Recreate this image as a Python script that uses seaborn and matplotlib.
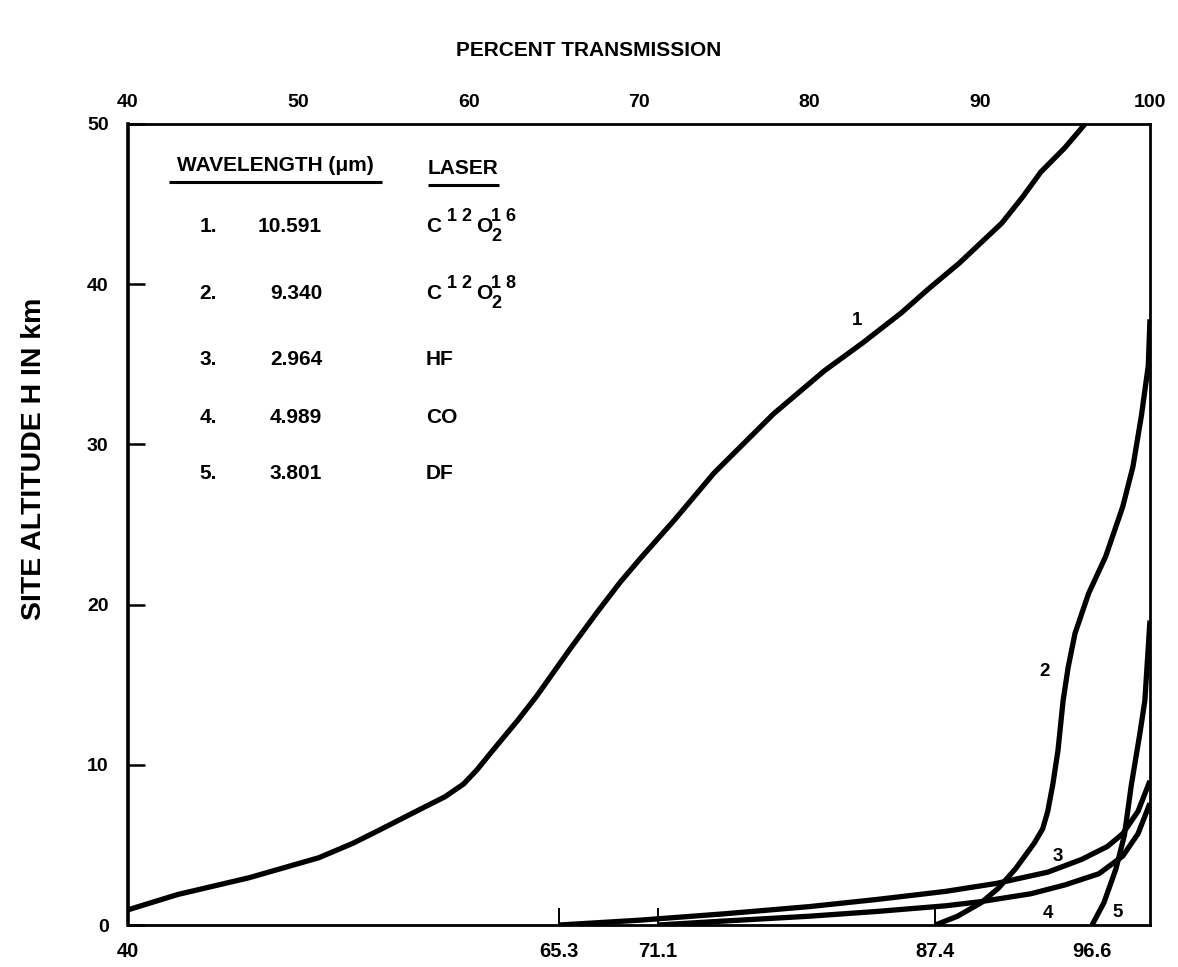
import numpy as np
import pandas as pd
import matplotlib
matplotlib.use("Agg")
import matplotlib.pyplot as plt
import seaborn as sns

# ---- data ----
c1_T = [40.0, 42.9, 47.1, 51.2, 53.2, 54.8, 56.0, 57.2, 58.6, 59.7, 60.5, 61.3, 62.9, 64.0, 65.0, 66.0,
        67.6, 68.9, 70.1, 72.1, 74.4, 77.9, 80.9, 83.1, 85.4, 87.0, 88.8, 90.0, 91.3, 92.5, 93.6, 95.0, 96.2]
c1_H = [0.95, 1.9, 2.95, 4.2, 5.1, 5.95, 6.6, 7.25, 8.0, 8.8, 9.7, 10.75, 12.8, 14.3, 15.8, 17.3,
        19.6, 21.4, 22.9, 25.3, 28.2, 31.9, 34.6, 36.3, 38.2, 39.7, 41.3, 42.5, 43.8, 45.4, 47.0, 48.5, 50.0]

c2_T = [87.4, 88.7, 90.1, 91.1, 92.1, 93.2, 93.7, 94.0, 94.3, 94.6, 94.9, 95.2, 95.6, 96.4, 97.4,
        98.4, 99.0, 99.5, 99.9, 100.0]
c2_H = [0.0, 0.55, 1.4, 2.3, 3.5, 5.1, 6.0, 7.1, 8.8, 10.9, 14.0, 16.1, 18.2, 20.7, 23.0,
        26.1, 28.6, 31.8, 34.9, 37.8]

c3_T = [65.3, 70.0, 75.0, 80.0, 84.0, 88.0, 91.0, 94.0, 96.0, 97.5, 98.4, 99.3, 100.0]
c3_H = [0.0, 0.3, 0.7, 1.15, 1.6, 2.1, 2.6, 3.3, 4.1, 4.9, 5.7, 7.1, 9.0]

c4_T = [71.1, 75.0, 80.0, 84.0, 88.0, 90.0, 93.0, 95.0, 97.0, 98.4, 99.3, 100.0]
c4_H = [0.0, 0.25, 0.55, 0.85, 1.2, 1.45, 1.95, 2.5, 3.2, 4.3, 5.7, 7.6]

c5_T = [96.6, 97.3, 98.0, 98.5, 98.9, 99.4, 99.7, 100.0]
c5_H = [0.0, 1.4, 3.5, 5.6, 8.7, 11.9, 14.0, 19.0]

top_ticks = [40, 50, 60, 70, 80, 90, 100]
bottom_ticks = [40, 65.3, 71.1, 87.4, 96.6]
y_ticks = [0, 10, 20, 30, 40, 50]

legend_num = ["1.", "2.", "3.", "4.", "5."]
legend_wl = ["10.591", "9.340", "2.964", "4.989", "3.801"]
# laser formula pieces: (element, superscript, element, subscript, superscript)
legend_laser = [("C", "1 2", "O", "2", "1 6"),
                ("C", "1 2", "O", "2", "1 8"),
                ("HF",), ("CO",), ("DF",)]

curve_ids = ["1", "2", "3", "4", "5"]
curve_label_T = [82.8, 93.8, 94.6, 94.0, 98.1]
curve_label_H = [37.7, 15.8, 4.3, 0.7, 0.8]

# ---- build table ----
frames = []
for cid, T, H in zip(curve_ids, [c1_T, c2_T, c3_T, c4_T, c5_T], [c1_H, c2_H, c3_H, c4_H, c5_H]):
    frames.append(pd.DataFrame({"T": T, "H": H, "curve": cid}))
df = pd.concat(frames, ignore_index=True)

sns.set_theme(style="white")
plt.rcParams["font.family"] = ["Liberation Sans", "DejaVu Sans"]
plt.rcParams["font.weight"] = "bold"
for k in ["text.color", "axes.labelcolor", "xtick.color", "ytick.color", "axes.edgecolor"]:
    plt.rcParams[k] = "black"

fig = plt.figure(figsize=(11.78, 9.67), dpi=100)
ax = fig.add_axes([0.1087, 0.0434, 0.8675, 0.8286])

sns.lineplot(data=df, x="T", y="H", hue="curve", units="curve", estimator=None,
             sort=False, palette=["black"] * 5, linewidth=3.8, legend=False, ax=ax)
for ln in ax.get_lines():
    ln.set_solid_joinstyle("round")
    ln.set_solid_capstyle("butt")

ax.set_xlim(40, 100)
ax.set_ylim(0, 50)
ax.set_xlabel("")
ax.set_ylabel("")
fig.text(0.029, 0.526, "SITE ALTITUDE H IN km", rotation=90, ha="center", va="center",
         fontsize=20.5, fontweight="bold")

for s in ax.spines.values():
    s.set_visible(True)
    s.set_color("black")
    s.set_linewidth(2.0)
ax.spines["left"].set_linewidth(2.6)

# bottom ticks
ax.set_xticks(bottom_ticks)
ax.set_xticklabels([("%g" % t) for t in bottom_ticks], fontsize=14.5, fontweight="bold")
ax.tick_params(axis="x", direction="in", length=12, width=1.4, pad=12,
               bottom=True, top=False)
for t, tick in zip(bottom_ticks, ax.xaxis.get_major_ticks()):
    if t in (40, 96.6):
        tick.tick1line.set_visible(False)

# left ticks
ax.set_yticks(y_ticks)
ax.set_yticklabels([str(v) for v in y_ticks], fontsize=14, fontweight="bold")
ax.tick_params(axis="y", direction="in", length=12, width=1.8, pad=14, left=True)

# top axis
top = ax.secondary_xaxis("top")
top.set_xticks(top_ticks)
top.set_xticklabels([str(v) for v in top_ticks], fontsize=14, fontweight="bold")
top.tick_params(axis="x", direction="in", length=0, pad=9)
top.spines["top"].set_visible(False)

fig.text(0.5, 0.948, "PERCENT TRANSMISSION", ha="center", va="center",
         fontsize=15, fontweight="bold")

# legend table
ax.text(42.9, 47.4, "WAVELENGTH (μm)", fontsize=15, fontweight="bold", va="center", ha="left")
ax.text(57.6, 47.2, "LASER", fontsize=15, fontweight="bold", va="center", ha="left")
ax.plot([42.4, 54.9], [46.35, 46.35], color="black", lw=2.2, solid_capstyle="butt")
ax.plot([57.6, 61.8], [46.2, 46.2], color="black", lw=2.2, solid_capstyle="butt")
row_H = [43.6, 39.4, 35.3, 31.7, 28.2]
for h, n, w, l in zip(row_H, legend_num, legend_wl, legend_laser):
    ax.text(44.2, h, n, fontsize=15, fontweight="bold", va="center", ha="left")
    ax.text(51.4, h, w, fontsize=15, fontweight="bold", va="center", ha="right")
    if len(l) == 1:
        ax.text(57.5, h, l[0], fontsize=15, fontweight="bold", va="center", ha="left")
    else:
        # (text, x offset pt, y offset pt, size)
        pieces = [(l[0], 0, 0, 15), (l[1], 15, 7, 13), (l[2], 36, 0, 15),
                  (l[3], 47, -7, 13), (l[4], 47, 7, 13)]
        for txt, dx, dy, fs in pieces:
            ax.annotate(txt, xy=(57.5, h), xytext=(dx, dy), textcoords="offset points",
                        fontsize=fs, fontweight="bold", va="center", ha="left")

for cid, tx, hy in zip(curve_ids, curve_label_T, curve_label_H):
    ax.text(tx, hy, cid, fontsize=13.5, fontweight="bold", ha="center", va="center")

fig.savefig("out.png", dpi=100, facecolor="white")
